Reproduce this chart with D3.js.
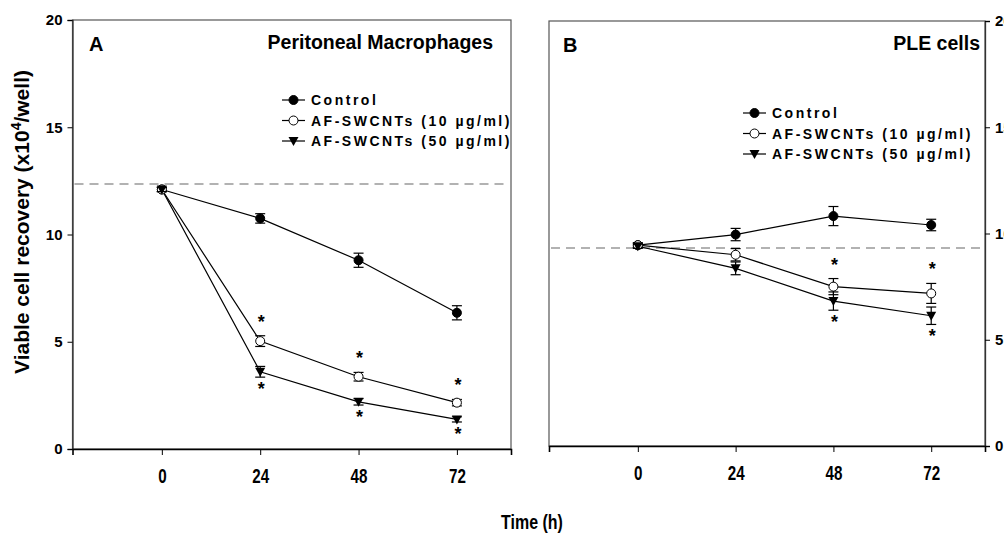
<!DOCTYPE html>
<html>
<head>
<meta charset="utf-8">
<script src="https://cdn.jsdelivr.net/npm/d3@7"></script>
<style>
  body { margin: 0; background: #fff; }
  svg { display: block; }
  .tick-lbl { font-family: 'Liberation Sans', Arial, sans-serif; font-weight: bold; font-size: 15px; }
  .narrow { font-family: 'Liberation Sans', Arial, sans-serif; font-weight: bold; font-size: 20px;
            transform-box: fill-box; transform-origin: center; transform: scaleX(0.76); }
</style>
</head>
<body>
<svg id="chart" width="1004" height="539"></svg>
<script>
const times = [0, 24, 48, 72];
const yTicks = [0, 5, 10, 15, 20];
const seriesNames = ['Control', 'AF-SWCNTs (10 µg/ml)', 'AF-SWCNTs (50 µg/ml)'];

// Panel A - peritoneal macrophages
const macroControl = [12.1, 10.75, 8.8, 6.35];
const macroControlErr = [0.1, 0.22, 0.33, 0.33];
const macro10 = [12.1, 5.03, 3.37, 2.16];
const macro10Err = [0.1, 0.25, 0.2, 0.15];
const macro50 = [12.1, 3.6, 2.2, 1.38];
const macro50Err = [0.1, 0.25, 0.15, 0.12];
const macroBaseline = 12.35;
// asterisk flags per time point
const macroStars10 = [0, 1, 1, 1];
const macroStars50 = [0, 1, 1, 1];

// Panel B - PLE cells
const pleControl = [9.45, 9.95, 10.82, 10.4];
const pleControlErr = [0.1, 0.29, 0.45, 0.27];
const ple10 = [9.45, 9.0, 7.5, 7.18];
const ple10Err = [0.1, 0.29, 0.38, 0.47];
const ple50 = [9.4, 8.36, 6.82, 6.13];
const ple50Err = [0.1, 0.3, 0.43, 0.41];
const pleBaseline = 9.32;
const pleStars10 = [0, 0, 1, 1];
const pleStars50 = [0, 0, 1, 1];

const panels = [
  {
    letter: 'A', title: 'Peritoneal Macrophages', letterPad: 16.5, titlePad: 18,
    left: 72.5, right: 511, top: 20, bottom: 449, axisSide: 'left',
    legendX: 282, legendY: 100,
    series: [
      { values: macroControl, err: macroControlErr, marker: 'filled', stars: null },
      { values: macro10, err: macro10Err, marker: 'open', stars: macroStars10 },
      { values: macro50, err: macro50Err, marker: 'tri', stars: macroStars50 }
    ],
    baseline: macroBaseline
  },
  {
    letter: 'B', title: 'PLE cells', letterPad: 14, titlePad: 5,
    left: 549, right: 985, top: 21, bottom: 446, axisSide: 'right',
    legendX: 743, legendY: 113,
    series: [
      { values: pleControl, err: pleControlErr, marker: 'filled', stars: null },
      { values: ple10, err: ple10Err, marker: 'open', stars: pleStars10 },
      { values: ple50, err: ple50Err, marker: 'tri', stars: pleStars50 }
    ],
    baseline: pleBaseline
  }
];

const svg = d3.select('#chart');

function drawMarker(g, type, x, y) {
  if (type === 'tri') {
    g.append('path')
      .attr('d', `M${x - 5},${y - 4} L${x + 5},${y - 4} L${x},${y + 5} Z`)
      .attr('fill', '#000');
  } else {
    g.append('circle')
      .attr('cx', x).attr('cy', y).attr('r', 4.5)
      .attr('fill', type === 'open' ? '#fff' : '#000')
      .attr('stroke', '#000').attr('stroke-width', 1);
  }
}

panels.forEach(p => {
  const x = d3.scaleLinear().domain([-21.8, 85.2]).range([p.left, p.right]);
  const y = d3.scaleLinear().domain([0, 20]).range([p.bottom, p.top]);
  const g = svg.append('g');

  // frame
  g.append('rect')
    .attr('x', p.left).attr('y', p.top)
    .attr('width', p.right - p.left).attr('height', p.bottom - p.top)
    .attr('fill', 'none').attr('stroke', '#555').attr('stroke-width', 1.2);

  // y axis
  const yAxis = (p.axisSide === 'left' ? d3.axisLeft(y) : d3.axisRight(y))
    .tickValues(yTicks).tickSize(5).tickPadding(5).tickFormat(d3.format('d'));
  const ya = g.append('g')
    .attr('transform', `translate(${p.axisSide === 'left' ? p.left : p.right},0)`)
    .call(yAxis);
  ya.select('.domain').attr('stroke', '#333').attr('stroke-width', 1.3);
  ya.selectAll('text').attr('class', 'tick-lbl').attr('fill', '#000');

  // x axis
  const xa = g.append('g')
    .attr('transform', `translate(0,${p.bottom})`)
    .call(d3.axisBottom(x).tickValues(times).tickSize(6).tickPadding(14).tickFormat(d3.format('d')));
  xa.select('.domain').attr('stroke', '#000').attr('stroke-width', 1.6);
  xa.selectAll('text').attr('class', 'narrow').attr('fill', '#000');

  // dashed baseline
  g.append('line')
    .attr('x1', p.left + 2).attr('x2', p.right - 5)
    .attr('y1', y(p.baseline)).attr('y2', y(p.baseline))
    .attr('stroke', '#999').attr('stroke-width', 1.5)
    .attr('stroke-dasharray', '9,6');

  // panel letter and title
  g.append('text')
    .attr('x', p.left + p.letterPad).attr('y', p.top + 31)
    .text(p.letter)
    .style('font-family', 'Liberation Sans, Arial, sans-serif')
    .style('font-weight', 'bold').style('font-size', '20px');
  g.append('text')
    .attr('x', p.right - p.titlePad).attr('y', p.top + 29)
    .attr('text-anchor', 'end')
    .text(p.title)
    .style('font-family', 'Liberation Sans, Arial, sans-serif')
    .style('font-weight', 'bold').style('font-size', '19.5px');

  // series
  const line = d3.line().x((d, i) => x(times[i])).y(d => y(d));
  p.series.forEach(s => {
    g.append('path')
      .attr('d', line(s.values))
      .attr('fill', 'none').attr('stroke', '#000').attr('stroke-width', 1.2);
  });

  p.series.forEach((s, si) => {
    s.values.forEach((v, i) => {
      const cx = x(times[i]);
      const e = s.err[i];
      g.append('line')
        .attr('x1', cx).attr('x2', cx).attr('y1', y(v + e)).attr('y2', y(v - e))
        .attr('stroke', '#000').attr('stroke-width', 1.2);
      [v + e, v - e].forEach(ev => {
        g.append('line')
          .attr('x1', cx - 5).attr('x2', cx + 5).attr('y1', y(ev)).attr('y2', y(ev))
          .attr('stroke', '#000').attr('stroke-width', 1.2);
      });
      drawMarker(g, s.marker, cx, y(v));

      if (s.stars && s.stars[i]) {
        const above = si === 1;
        const sy = above ? y(v + e) - 8 : y(v - e) + 18;
        g.append('text')
          .attr('x', cx + 1).attr('y', sy)
          .attr('text-anchor', 'middle')
          .text('*')
          .style('font-family', 'Liberation Sans, Arial, sans-serif')
          .style('font-weight', 'bold').style('font-size', '18px');
      }
    });
  });

  // legend
  const lg = g.append('g').attr('transform', `translate(${p.legendX},${p.legendY})`);
  seriesNames.forEach((name, i) => {
    const ly = i * 20.5;
    lg.append('line')
      .attr('x1', 0).attr('x2', 23).attr('y1', ly).attr('y2', ly)
      .attr('stroke', '#000').attr('stroke-width', 1.2);
    drawMarker(lg, p.series[i].marker, 11.5, ly);
    lg.append('text')
      .attr('x', 29).attr('y', ly).attr('dy', '0.36em')
      .text(name)
      .style('font-family', 'Liberation Sans, Arial, sans-serif')
      .style('font-weight', 'bold').style('font-size', '14px')
      .style('letter-spacing', '2.5px');
  });
});

// shared y-axis label
svg.append('text')
  .attr('transform', 'translate(29,222) rotate(-90)')
  .attr('text-anchor', 'middle')
  .style('font-family', 'Liberation Sans, Arial, sans-serif')
  .style('font-weight', 'bold').style('font-size', '21px')
  .call(t => {
    t.append('tspan').text('Viable cell recovery (x10');
    t.append('tspan').attr('dy', -8).style('font-size', '14px').text('4');
    t.append('tspan').attr('dy', 8).text('/well)');
  });

// shared x-axis label
svg.append('text')
  .attr('x', 532).attr('y', 529)
  .attr('text-anchor', 'middle')
  .attr('class', 'narrow')
  .style('font-size', '21px')
  .text('Time (h)');
</script>
</body>
</html>
